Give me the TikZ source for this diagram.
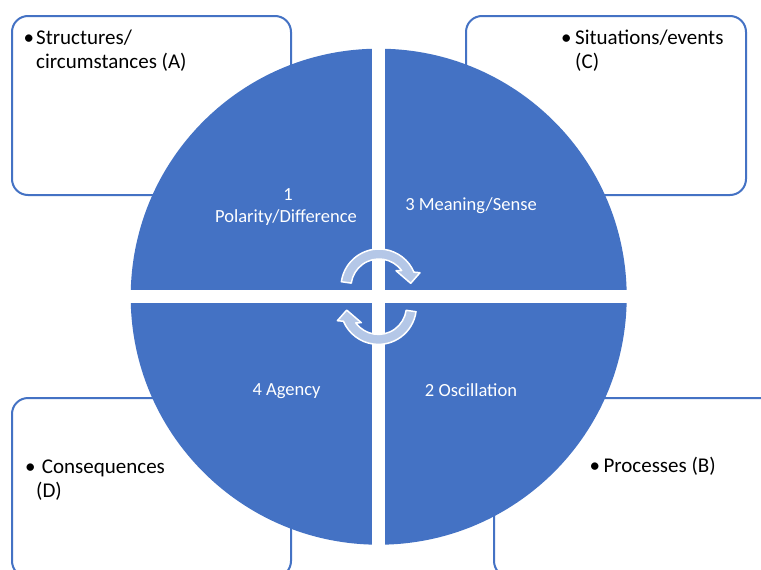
\documentclass[tikz,border=0pt]{standalone}
\usepackage{fontspec}
\setmainfont{Carlito}
\definecolor{accent}{RGB}{68,114,196}
\definecolor{arrowfill}{RGB}{180,199,231}
\begin{document}
\begin{tikzpicture}[x=1pt,y=-1pt,
  box/.style={draw=accent, line width=2pt, fill=white, rounded corners=16pt},
  btext/.style={anchor=base west, inner sep=0pt, font=\fontsize{21}{23}\selectfont, text=black},
  qtext/.style={anchor=base, inner sep=0pt, font=\fontsize{18.5}{22}\selectfont, text=white},
  cyc/.style={fill=arrowfill, draw=white, line width=1.5pt, line join=round}]
\useasboundingbox (0,0) rectangle (761,570);
\clip (0,0) rectangle (761,570);
\fill[white] (0,0) rectangle (761,570);
% outer boxes
\path[box] (12,16) rectangle (291,195);
\path[box] (466,16) rectangle (746,195);
\path[box] (12,398) rectangle (291,577);
\path[box] (494,398) rectangle (775,577);
% circle with quadrant gaps
\coordinate (c) at (378.7,296.7);
\fill[accent] (c) circle[radius=248];
\fill[white] (372.2,40) rectangle (385.2,555);
\fill[white] (120,290.2) rectangle (640,303.2);
% cycle arrows
\path[cyc] (341.37,281.71) arc[start angle=-172, end angle=-23, radius=38]
  -- (420,272.7) -- (410.7,283.3) -- (396,270.7)
  -- (401.65,270.54) arc[start angle=-36, end angle=-172, radius=28] -- cycle;
\begin{scope}[rotate around={180:(378.7,296.7)}]
\path[cyc] (341.37,281.71) arc[start angle=-172, end angle=-23, radius=38]
  -- (420,272.7) -- (410.7,283.3) -- (396,270.7)
  -- (401.65,270.54) arc[start angle=-36, end angle=-172, radius=28] -- cycle;
\end{scope}
% quadrant labels
\node[qtext] (q1a) at (288,200) {1};
\node[qtext] (q1b) at (286,222) {Polarity/Difference};
\node[qtext] (q3) at (471,210) {3 Meaning/Sense};
\node[qtext] (q4) at (286.5,395) {4 Agency};
\node[qtext] (q2) at (471,396) {2 Oscillation};
% box texts
\node[btext] (bA) at (23.5,45) {•};
\node[btext] (tA1) at (36,45) {Structures/};
\node[btext] (tA2) at (36,68.3) {circumstances (A)};
\node[btext] (bC) at (561,45) {•};
\node[btext] (tC1) at (575,45) {Situations/events};
\node[btext] (tC2) at (575,68.3) {(C)};
\node[btext] (bD) at (25,473.3) {•};
\node[btext] (tD1) at (41.7,473.3) {Consequences};
\node[btext] (tD2) at (36,497) {(D)};
\node[btext] (bB) at (589.5,472.7) {•};
\node[btext] (tB1) at (603.3,472.7) {Processes (B)};
\end{tikzpicture}
\end{document}
